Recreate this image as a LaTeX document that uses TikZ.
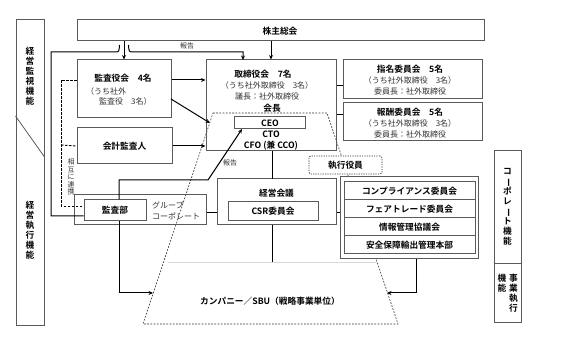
\documentclass[tikz,border=0pt]{standalone}
\usepackage{fontspec}
\setmainfont{Noto Sans CJK JP}[BoldFont={Noto Sans CJK JP Bold}]
\usepackage{graphicx}
\usetikzlibrary{arrows.meta}
\definecolor{boxgray}{HTML}{5A5A5A}
\definecolor{txtgray}{HTML}{333333}
\newcommand{\vbar}{\rotatebox[origin=c]{-90}{ー}}
\tikzset{
  box/.style={draw=boxgray, line width=1pt, fill=white, inner sep=0pt},
  obox/.style={draw=boxgray, line width=1pt, inner sep=0pt},
  conn/.style={draw=black, line width=1pt},
  arr/.style={conn, -{Stealth[length=4.5pt,width=4pt]}},
  tb/.style={font=\bfseries\fontsize{8.7}{10}\selectfont, inner sep=0pt},
  tr/.style={font=\fontsize{8}{10}\selectfont, text=txtgray, inner sep=0pt},
  tsmall/.style={font=\fontsize{7}{8}\selectfont, text=txtgray, inner sep=0pt},
  vtxt/.style={font=\bfseries\fontsize{8.7}{10}\selectfont, align=center, inner sep=0pt},
  trap/.style={draw=txtgray, line width=0.6pt, dash pattern=on 1.8pt off 1.4pt},
}
\begin{document}
\begin{tikzpicture}[x=1pt,y=-1pt]
\useasboundingbox (0,0) rectangle (566,355);

% executive-officer scope (dashed trapezoid)
\draw[trap] (213,113) -- (327,113) -- (398,324) -- (143,324) -- cycle;
\draw[draw=black!15, line width=0.8pt] (168,262) -- (377,262);
\node[tb] (sbu) at (270,301) {カンパニー／SBU（戦略事業単位）};

% side columns
\node[obox, minimum width=28pt, minimum height=306pt] (L) at (30,173) {};
\draw[boxgray, line width=0.8pt] (L.west |- 0,116) -- (L.east |- 0,157);
\node[vtxt] (lt1) at (30,76) {経\\営\\監\\視\\機\\能};
\node[vtxt] (lt2) at (30,230) {経\\営\\執\\行\\機\\能};

\node[obox, minimum width=27pt, minimum height=172pt] (R) at (507.5,237) {};
\draw[boxgray, line width=0.8pt] (R.west |- 0,263) -- (R.east |- 0,263);
\node[vtxt] (rt1) at (507.5,207) {コ\\\vbar\\ポ\\レ\\\vbar\\ト\\機\\能};
\node[vtxt] (rt2) at (513.5,293) {事\\業\\執\\行};
\node[vtxt] (rt3) at (502,283) {機\\能};

% main boxes
\node[box, minimum width=407pt, minimum height=21pt] (S) at (280.5,30.5) {};
\node[tb] at (280,31) {株主総会};

\node[box, minimum width=94pt, minimum height=58pt] (K) at (124,89) {};
\node[tb] at (123,78) {監査役会　4名};
\node[tr, anchor=west] at (86,91) {（うち社外};
\node[tr, anchor=west] at (99,101) {監査役　3名）};

\node[obox, minimum width=130pt, minimum height=91pt] (T) at (271,105.5) {};
\node[tb] at (263,74) {取締役会　7名};
\node[tr] at (267,85) {（うち社外取締役　3名）};
\node[tr] at (267,96) {議長：社外取締役};
\node[tb] at (272,108) {会長};
\node[box, minimum width=71pt, minimum height=12pt] (ceo) at (269.5,123) {};
\node[tb] at (270,123) {CEO};
\node[tb] at (271,134.5) {CTO};
\node[tb] at (271,146) {CFO (兼 CCO)};

\node[box, minimum width=139pt, minimum height=39pt] (N) at (412.5,79.5) {};
\node[tb] at (410,69) {指名委員会　5名};
\node[tr] at (410,80) {（うち社外取締役　3名）};
\node[tr] at (410,91) {委員長：社外取締役};

\node[box, minimum width=139pt, minimum height=38pt] (H) at (412.5,122) {};
\node[tb] at (410,112) {報酬委員会　5名};
\node[tr] at (410,123) {（うち社外取締役　3名）};
\node[tr] at (410,134) {委員長：社外取締役};

\node[box, minimum width=95pt, minimum height=36pt] (A) at (124.5,146) {};
\node[tb] at (124.5,146) {会計監査人};

\node[box, rounded corners=2pt, draw=txtgray, line width=0.7pt, dash pattern=on 1.2pt off 1.2pt, minimum width=73pt, minimum height=18pt] (E) at (345.5,165) {};
\node[tb] at (345.5,165) {執行役員};

\node[obox, minimum width=132pt, minimum height=30pt] (G) at (140,210) {};
\node[box, minimum width=62pt, minimum height=21pt] (B) at (115,210.5) {};
\node[tb] at (115,210.5) {監査部};
\node[tr, anchor=west, align=left, font=\fontsize{8}{11}\selectfont] at (152,210.5) {グループ\\コーポレート};

\node[box, minimum width=119pt, minimum height=46pt] (M) at (276.5,202) {};
\node[tb] at (276.5,193) {経営会議};
\node[box, minimum width=90pt, minimum height=19pt] (csr) at (273,211.5) {};
\node[tb] at (273,211.5) {CSR委員会};

\node[box, minimum width=138pt, minimum height=82pt] (C) at (409,218) {};
\node[box, minimum width=131pt, minimum height=18pt] (c1) at (409.5,191) {};
\node[box, minimum width=131pt, minimum height=18pt] (c2) at (409.5,209) {};
\node[box, minimum width=131pt, minimum height=18pt] (c3) at (409.5,227) {};
\node[box, minimum width=131pt, minimum height=18pt] (c4) at (409.5,245) {};
\node[tb] at (c1) {コンプライアンス委員会};
\node[tb] at (c2) {フェアトレード委員会};
\node[tb] at (c3) {情報管理協議会};
\node[tb] at (c4) {安全保障輸出管理本部};

% connectors
\draw[arr] (K.north |- S.south) -- (K.north);
\draw[arr] (T.north |- S.south) -- (T.north);

% audit department report line with hop
\coordinate (hopL) at (115,52);
\coordinate (hopR) at (133,52);
\coordinate (tin) at (243,60);
\draw[conn] ([yshift=-5.5pt]B.west) -- (51,216) -- (51,52) -- (hopL)
  .. controls (119,52) .. (119.5,45);
\draw[arr] (128.5,45) .. controls (129,52) .. (hopR) -- (243,52) -- (tin);
\node[tsmall] at (187,46) {報告};

% mutual cooperation dashed line
\draw[conn, line width=0.9pt, dash pattern=on 2.5pt off 1.5pt]
  ([yshift=9pt]K.west) -- (61,80) -- (61,206) -- ([yshift=4.5pt]B.west);
\draw[conn, line width=0.9pt, dash pattern=on 2.5pt off 1.5pt] (61,145) -- (A.west);
\node[tsmall, align=center, font=\fontsize{7}{7.6}\selectfont] at (71,177) {相\\互\\に\\連\\携};

% auditors to board
\draw[arr] ([yshift=9pt]K.east) -- ([yshift=9pt]K.east -| T.west);
\coordinate (kd) at (210,123);
\draw[arr] (171,99) -- (kd);
\draw[arr] (A.east) -- (A.east -| T.west);

% audit department report to CEO
\coordinate (ceoin) at (242,129);
\draw[arr] ([xshift=4pt]B.north) -- (119,180) -- (208,180) -- (ceoin);
\node[tsmall] at (230,163) {報告};

% audit department to companies
\coordinate (sbuL) at (153,293);
\draw[arr] ([xshift=4pt]B.south) -- (119,293) -- (sbuL);

% board to committees
\draw[conn] (T.east |- 0,86) -- (N.west |- 0,86);
\draw[conn] (T.east |- 0,115) -- (H.west |- 0,115);

% board to management meeting
\draw[conn] (272,151) -- (272,179);
\coordinate (sbuT) at (272,262);
\draw[conn] (272,225) -- (sbuT);

% group corporate - management meeting - compliance
\draw[conn] (G.east |- 0,213) -- (M.west |- 0,213);
\draw[conn] (M.east |- 0,213) -- (C.west |- 0,213);

% compliance to companies
\coordinate (sbuR) at (387,293);
\draw[arr] (C.south -| 416,0) -- (416,293) -- (sbuR);
\end{tikzpicture}
\end{document}
